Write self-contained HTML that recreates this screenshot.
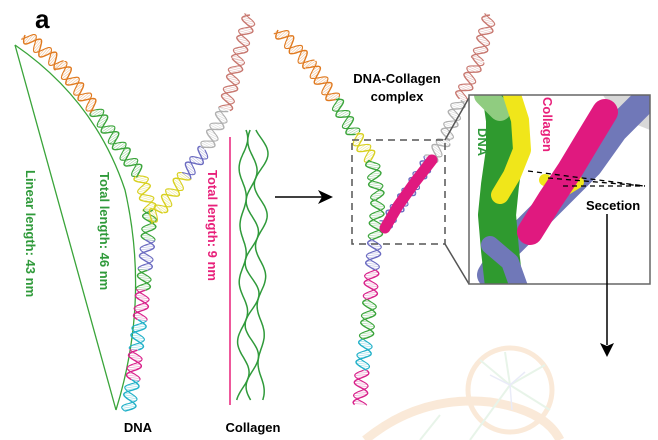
<!DOCTYPE html>
<html><head><meta charset="utf-8">
<style>
html,body{margin:0;padding:0;background:#fff;}
svg{display:block;font-family:"Liberation Sans",sans-serif;}
</style></head><body>
<svg id="s" width="658" height="440" viewBox="0 0 658 440" xmlns="http://www.w3.org/2000/svg">
<g opacity="0.22" fill="none">
<circle cx="510" cy="390" r="42" stroke="#e9a050" stroke-width="5"/>
<path d="M365 440 Q420 395 490 402 Q545 410 560 440" stroke="#e9a050" stroke-width="9"/>
<g stroke="#9ad0a0" stroke-width="2"><line x1="510" y1="385" x2="480" y2="360"/><line x1="510" y1="385" x2="545" y2="365"/><line x1="510" y1="385" x2="505" y2="352"/><line x1="510" y1="385" x2="470" y2="440"/><line x1="510" y1="385" x2="550" y2="410"/><line x1="420" y1="440" x2="440" y2="415"/></g>
<g stroke="#a0a8e0" stroke-width="1.5"><line x1="510" y1="385" x2="490" y2="375"/><line x1="510" y1="385" x2="525" y2="372"/><line x1="510" y1="385" x2="512" y2="410"/></g>
</g>
<text x="35" y="28" font-size="26" font-weight="bold">a</text>
<path d="M15 45 L116 410" stroke="#3aa43a" stroke-width="1.3" fill="none"/>
<path d="M15 45 Q95 100 125 190 Q150 300 116 410" stroke="#3aa43a" stroke-width="1.3" fill="none"/>
<g id="helices"></g>
<line x1="230" y1="137" x2="230" y2="405" stroke="#e8207a" stroke-width="1.5"/>
<g id="coll" fill="none" stroke="#2f9a3a" stroke-width="1.5"></g>
<text transform="translate(26,170) rotate(90)" font-size="13" font-weight="bold" fill="#2f9a3a">Linear length: 43 nm</text>
<text transform="translate(100,172) rotate(90)" font-size="13" font-weight="bold" fill="#2f9a3a">Total length: 46 nm</text>
<text transform="translate(208,170) rotate(90)" font-size="13" font-weight="bold" fill="#e8207a">Total length: 9 nm</text>
<text x="138" y="432" font-size="13" font-weight="bold" text-anchor="middle">DNA</text>
<text x="253" y="432" font-size="13" font-weight="bold" text-anchor="middle">Collagen</text>
<line x1="275" y1="197" x2="322" y2="197" stroke="#000" stroke-width="1.5"/>
<polygon points="333,197 318,190 322,197 318,204" fill="#000"/>
<polyline points="385,228 398,206 415,182 432,160" fill="none" stroke="#e0197f" stroke-width="11" stroke-linecap="round"/>
<text x="397" y="83" font-size="13" font-weight="bold" text-anchor="middle">DNA-Collagen</text>
<text x="397" y="101" font-size="13" font-weight="bold" text-anchor="middle">complex</text>
<rect x="352" y="140" width="93" height="104" fill="none" stroke="#555" stroke-width="1.5" stroke-dasharray="7,5"/>
<line x1="445" y1="140" x2="470" y2="96" stroke="#555" stroke-width="1.5"/>
<line x1="445" y1="244" x2="469" y2="284" stroke="#555" stroke-width="1.5"/>
<svg x="469" y="95" width="181" height="189" viewBox="469 95 181 189">
<rect x="469" y="95" width="181" height="189" fill="#fff"/>
<g fill="none" stroke-linecap="round" stroke-linejoin="round">
<polyline points="615,90 635,110 660,120" stroke="#d8d8d8" stroke-width="26"/>
<polyline points="645,100 615,130 590,165 560,195 530,225 505,250 490,275" stroke="#7078b8" stroke-width="26"/>
<polyline points="500,85 505,120 505,150 500,185 497,215 500,250 505,295" stroke="#2f9a2f" stroke-width="38"/>
<polyline points="485,95 500,110" stroke="#90cc80" stroke-width="22"/>
<polyline points="512,95 520,120 522,150 512,175 500,195" stroke="#f0e61a" stroke-width="18"/>
<polyline points="545,180 565,190 578,182" stroke="#f0e61a" stroke-width="12"/>
<polyline points="490,245 510,262 520,290" stroke="#7078b8" stroke-width="18"/>
<polyline points="605,112 588,140 570,170 550,200 530,232" stroke="#e0197f" stroke-width="26"/>
</g>
<text transform="translate(478,128) rotate(90)" font-size="13" font-weight="bold" fill="#2f9a3a">DNA</text>
<text transform="translate(543,97) rotate(90)" font-size="13" font-weight="bold" fill="#e8207a">Collagen</text>
<g stroke="#000" stroke-width="1.3" stroke-dasharray="5,4"><line x1="528" y1="171" x2="645" y2="186"/><line x1="548" y1="178" x2="645" y2="186"/><line x1="563" y1="186" x2="645" y2="186"/></g>
<text x="586" y="210" font-size="13" font-weight="bold">Secetion</text>
</svg>
<rect x="469" y="95" width="181" height="189" fill="none" stroke="#666" stroke-width="1.5"/>
<line x1="607" y1="214" x2="607" y2="345" stroke="#000" stroke-width="1.5"/>
<polygon points="607,357 600,343 607,346 614,343" fill="#000"/>
</svg>
<script>
(function(){
var NS="http://www.w3.org/2000/svg",g=document.getElementById("helices");
function helix(pts,cols,amp,per){
 var s=0;
 for(var i=0;i<pts.length-1;i++){
  var p=pts[i],q=pts[i+1],l=Math.hypot(q[0]-p[0],q[1]-p[1]),ux=(q[0]-p[0])/l,uy=(q[1]-p[1])/l,nx=-uy,ny=ux;
  var d1="",d2="",r="";
  for(var t=0;t<=l;t+=1){var ph=(s+t)/per*2*Math.PI,a=amp*Math.sin(ph),b=amp*Math.sin(ph+2.2);
   var x=p[0]+ux*t,y=p[1]+uy*t;
   d1+=(t==0?"M":"L")+(x+nx*a).toFixed(1)+" "+(y+ny*a).toFixed(1);
   d2+=(t==0?"M":"L")+(x+nx*b).toFixed(1)+" "+(y+ny*b).toFixed(1);
   if(Math.round(t)%2==0)r+="M"+(x+nx*a).toFixed(1)+" "+(y+ny*a).toFixed(1)+"L"+(x+nx*b).toFixed(1)+" "+(y+ny*b).toFixed(1);}
  var c=cols[i%cols.length];
  [[r,0.6,0.45],[d1,1.4,1],[d2,1.1,1]].forEach(function(o){var e=document.createElementNS(NS,"path");e.setAttribute("d",o[0]);e.setAttribute("fill","none");e.setAttribute("stroke",c);e.setAttribute("stroke-width",o[1]);e.setAttribute("opacity",o[2]);g.appendChild(e);});
  s+=l;}
}
var O="#e07a20",G="#3aa43a",Y="#d8d020",B="#6a6ac0",M="#d8208a",C="#20b0c8",W="#b0b0b0",R="#c87870";
helix([[25,35],[60,65],[95,110],[115,140],[140,175],[150,210],[148,240],[145,270],[143,290],[140,320],[136,350],[133,380],[128,412]],[O,O,G,G,Y,G,B,G,M,C,M,C],7,20);
helix([[250,15],[238,60],[225,110],[205,150],[185,175],[160,210],[148,220]],[R,R,W,B,Y,Y],7,20);
helix([[278,30],[310,65],[335,100],[355,135],[372,160],[378,200],[375,240],[372,270],[370,300],[366,340],[362,370],[360,405]],[O,O,G,Y,G,G,B,M,G,C,M,C],7,20);
helix([[490,15],[478,60],[460,100],[445,140],[430,160],[410,190],[385,225]],[R,R,W,W,B,B],7,20);
var c=document.getElementById("coll");
[[243,0],[252,0.7],[261,1.4]].forEach(function(o){var d="";for(var y=130;y<=400;y+=2){var x=o[0]+5*Math.sin((y/30+o[1])*Math.PI)+2*Math.sin(y/11);d+=(y==130?"M":"L")+x.toFixed(1)+" "+y;}var e=document.createElementNS(NS,"path");e.setAttribute("d",d);c.appendChild(e);});
})();
</script>
</body></html>
